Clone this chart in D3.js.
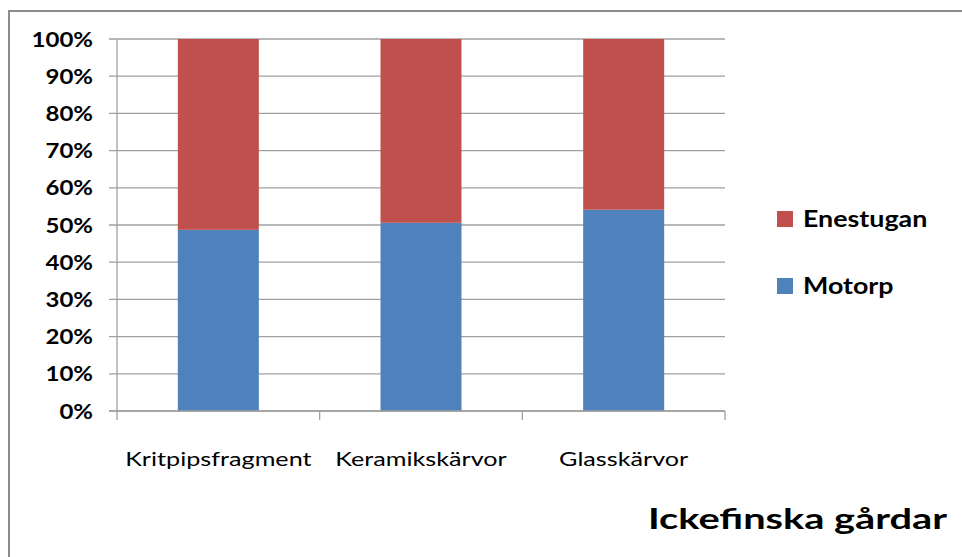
<!DOCTYPE html>
<html>
<head>
<meta charset="utf-8">
<script src="https://cdn.jsdelivr.net/npm/d3@7"></script>
<style>
  body { margin: 0; background: #fff; }
  svg { display: block; }
  text { font-family: Lato, "Open Sans", sans-serif; fill: #000; }
</style>
</head>
<body>
<svg id="chart" width="962" height="557"></svg>
<script>
const categories = ["Kritpipsfragment", "Keramikskärvor", "Glasskärvor"];
const seriesNames = ["Motorp", "Enestugan"];
const motorp = [0.487, 0.506, 0.541];
const enestugan = [0.513, 0.494, 0.459];
const colors = ["#4f81bd", "#c0504d"];
const yTicks = [0, 0.1, 0.2, 0.3, 0.4, 0.5, 0.6, 0.7, 0.8, 0.9, 1.0];
const titleText = "Ickefinska gårdar";

(function () {
const svg = d3.select("#chart");

// outer frame
svg.append("rect").attr("x", 9).attr("y", 11).attr("width", 970).attr("height", 570)
  .attr("fill", "none").attr("stroke", "#8c8c8c").attr("stroke-width", 2);

const pLeft = 117, pRight = 725, pTop = 39, pBottom = 411;
const xOuter = d3.scaleBand().domain(categories).range([pLeft, pRight]);
const y = d3.scaleLinear().domain([0, 1]).range([pBottom, pTop]);

// gridlines
svg.append("g").selectAll("line").data(yTicks).join("line")
  .attr("x1", pLeft - 8).attr("x2", pRight)
  .attr("y1", d => y(d)).attr("y2", d => y(d))
  .attr("stroke", "#a0a0a0").attr("stroke-width", 1.3);

// stacked data
const data = categories.map((c, i) => ({ cat: c, Motorp: motorp[i], Enestugan: enestugan[i] }));
const stack = d3.stack().keys(seriesNames)(data);

svg.append("g").selectAll("g").data(stack).join("g")
  .attr("fill", (d, i) => colors[i])
  .selectAll("rect").data(d => d).join("rect")
  .attr("x", d => xOuter(d.data.cat) + xOuter.bandwidth() / 2 - 40.5)
  .attr("width", 81)
  .attr("y", d => y(d[1]))
  .attr("height", d => y(d[0]) - y(d[1]));

// y axis line
svg.append("line").attr("x1", pLeft).attr("x2", pLeft).attr("y1", pTop).attr("y2", pBottom)
  .attr("stroke", "#a0a0a0").attr("stroke-width", 1.3);
// x axis line & ticks
svg.append("line").attr("x1", pLeft - 8).attr("x2", pRight).attr("y1", pBottom).attr("y2", pBottom)
  .attr("stroke", "#a0a0a0").attr("stroke-width", 1.3);
const xTickPos = categories.map(c => xOuter(c)).concat([pRight]);
svg.append("g").selectAll("line").data(xTickPos).join("line")
  .attr("x1", d => d).attr("x2", d => d).attr("y1", pBottom).attr("y2", pBottom + 9)
  .attr("stroke", "#a0a0a0").attr("stroke-width", 1.3);

// y tick labels
const fmt = d3.format(".0%");
svg.append("g").selectAll("text").data(yTicks).join("text")
  .attr("transform", d => `translate(93,${y(d) + 7.5}) scale(1.2,1)`)
  .attr("text-anchor", "end")
  .attr("font-size", 20).attr("font-weight", "bold")
  .text(d => fmt(d));

// x labels
svg.append("g").selectAll("text").data(categories).join("text")
  .attr("transform", d => `translate(${xOuter(d) + xOuter.bandwidth() / 2},466) scale(1.26,1)`)
  .attr("text-anchor", "middle")
  .attr("font-size", 20)
  .text(d => d);

// legend
const legendItems = [
  { name: "Enestugan", color: colors[1], y: 219 },
  { name: "Motorp", color: colors[0], y: 286 }
];
const lg = svg.append("g").selectAll("g").data(legendItems).join("g");
lg.append("rect").attr("x", 777).attr("y", d => d.y - 8).attr("width", 16).attr("height", 16)
  .attr("fill", d => d.color);
lg.append("text").attr("transform", d => `translate(803,${d.y + 8}) scale(1.22,1)`)
  .attr("font-size", 22).attr("font-weight", "bold")
  .text(d => d.name);

// title
svg.append("text").attr("transform", "translate(947,529) scale(1.37,1)").attr("text-anchor", "end")
  .attr("font-size", 29).attr("font-weight", "bold")
  .text(titleText);
})();
</script>
</body>
</html>
